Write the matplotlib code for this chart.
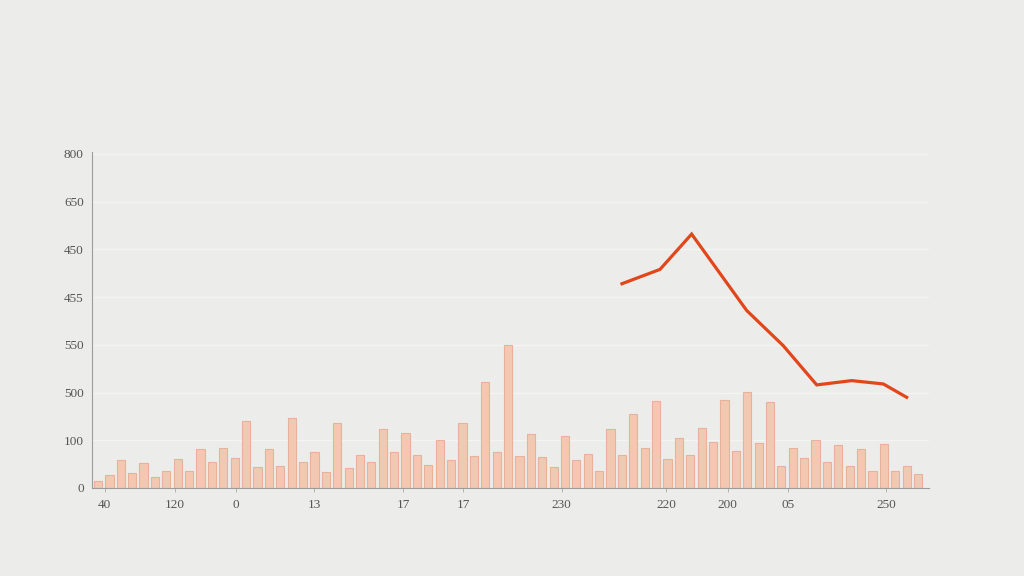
import matplotlib
matplotlib.use("Agg")
import matplotlib.pyplot as plt
import numpy as np

# ---- data ----
bar_values = [15, 27, 59, 31, 52, 23, 36, 61, 36, 82,
              55, 84, 63, 140, 44, 82, 46, 147, 55, 75,
              34, 136, 42, 69, 55, 124, 75, 115, 69, 48,
              101, 59, 136, 67, 222, 75, 300, 67, 113, 65,
              44, 109, 59, 71, 36, 124, 69, 155, 84, 182,
              61, 105, 69, 126, 96, 184, 78, 201, 94, 180,
              46, 84, 63, 101, 55, 90, 46, 82, 36, 92,
              36, 46, 29]
line_x = [46.0, 49.34, 52.12, 56.95, 60.17, 63.10, 66.17, 68.95, 71.0]
line_values = [428, 458, 532, 372, 298, 216, 225, 218, 190]
x_tick_pos = [0.6, 6.76, 12.1, 18.97, 26.8, 32.05, 40.7, 49.9, 55.3, 60.6, 69.2]
x_tick_labels = ["40", "120", "0", "13", "17", "17", "230", "220", "200", "05", "250"]
y_tick_pos = [0, 100, 200, 300, 400, 500, 600, 700]
y_tick_labels = ["0", "100", "500", "550", "455", "450", "650", "800"]

bg = "#ececea"
fig = plt.figure(figsize=(10.24, 5.76), dpi=100, facecolor=bg)
ax = fig.add_axes([92/1024, 1-488/576, (929-92)/1024, (488-152)/576])
ax.set_facecolor(bg)

x = np.arange(len(bar_values))
ax.bar(x, bar_values, width=0.72, color="#f3c8b2", edgecolor="#e9b199",
       linewidth=0.8, zorder=2)
ax.plot(line_x, line_values, color="#e2461b", linewidth=2.3, zorder=3,
        solid_joinstyle="miter")

ax.set_xlim(-0.53, 72.96)
ax.set_ylim(0, 704)

ax.set_yticks(y_tick_pos)
ax.set_yticklabels(y_tick_labels)
ax.set_xticks(x_tick_pos)
ax.set_xticklabels(x_tick_labels)

for lab in ax.get_xticklabels() + ax.get_yticklabels():
    lab.set_fontfamily("Liberation Serif")
    lab.set_fontsize(9.5)
    lab.set_color("#555555")

ax.tick_params(axis="y", length=0, pad=6)
ax.tick_params(axis="x", length=3, width=0.6, color="#aaaaaa", pad=5)

ax.grid(axis="y", color="#f4f4f2", linewidth=0.9, zorder=0)
ax.set_axisbelow(True)

for s in ["top", "right"]:
    ax.spines[s].set_visible(False)
for s in ["left", "bottom"]:
    ax.spines[s].set_color("#9c9c9c")
    ax.spines[s].set_linewidth(0.8)

fig.savefig("out.png", dpi=100, facecolor=bg)
